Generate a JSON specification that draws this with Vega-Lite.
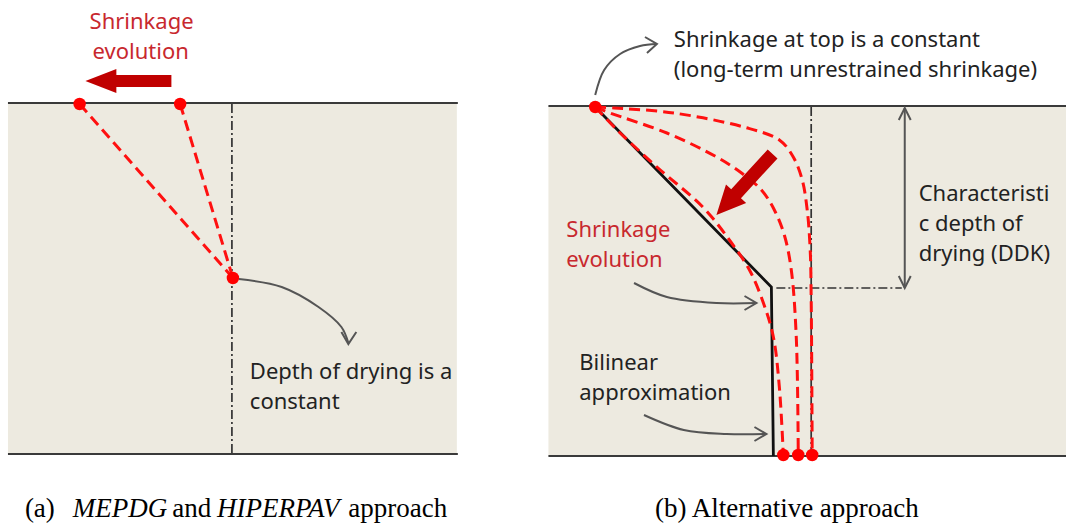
{
  "$schema": "https://vega.github.io/schema/vega-lite/v6.json",
  "width": 1071,
  "height": 523,
  "autosize": {"type": "fit", "contains": "padding"},
  "padding": 0,
  "background": "#ffffff",
  "config": {"view": {"stroke": null}},
  "datasets": {
    "bg": [
      {"x": 8, "x2": 459, "y": 103, "y2": 454},
      {"x": 551, "x2": 1071, "y": 106, "y2": 456}
    ],
    "surf": [
      {"g": "a1", "i": 0, "x": 8, "y": 103}, {"g": "a1", "i": 1, "x": 460, "y": 103},
      {"g": "a2", "i": 0, "x": 8, "y": 454}, {"g": "a2", "i": 1, "x": 460, "y": 454},
      {"g": "b1", "i": 0, "x": 551, "y": 106}, {"g": "b1", "i": 1, "x": 1071, "y": 106},
      {"g": "b2", "i": 0, "x": 551, "y": 456}, {"g": "b2", "i": 1, "x": 1071, "y": 456}
    ],
    "dashdot": [
      {"g": "a", "i": 0, "x": 233, "y": 104}, {"g": "a", "i": 1, "x": 233, "y": 453},
      {"g": "b", "i": 0, "x": 815, "y": 107}, {"g": "b", "i": 1, "x": 815, "y": 455},
      {"g": "h", "i": 0, "x": 780, "y": 288}, {"g": "h", "i": 1, "x": 906, "y": 288}
    ],
    "reddash": [
      {"g": "s1", "i": 0, "x": 80, "y": 104}, {"g": "s1", "i": 1, "x": 234, "y": 278},
      {"g": "s2", "i": 0, "x": 181, "y": 104}, {"g": "s2", "i": 1, "x": 234, "y": 278},
      {"g": "c1", "i": 0, "x": 598, "y": 107}, {"g": "c1", "i": 1, "x": 620, "y": 130},
      {"g": "c1", "i": 2, "x": 660, "y": 167}, {"g": "c1", "i": 3, "x": 707, "y": 208},
      {"g": "c1", "i": 4, "x": 735, "y": 243}, {"g": "c1", "i": 5, "x": 753, "y": 270},
      {"g": "c1", "i": 6, "x": 767, "y": 303}, {"g": "c1", "i": 7, "x": 777, "y": 337},
      {"g": "c1", "i": 8, "x": 783, "y": 387}, {"g": "c1", "i": 9, "x": 787, "y": 455},
      {"g": "c2", "i": 0, "x": 598, "y": 107}, {"g": "c2", "i": 1, "x": 613, "y": 113},
      {"g": "c2", "i": 2, "x": 670, "y": 133}, {"g": "c2", "i": 3, "x": 720, "y": 157},
      {"g": "c2", "i": 4, "x": 745, "y": 173}, {"g": "c2", "i": 5, "x": 765, "y": 190},
      {"g": "c2", "i": 6, "x": 778, "y": 210}, {"g": "c2", "i": 7, "x": 788, "y": 235},
      {"g": "c2", "i": 8, "x": 795, "y": 270}, {"g": "c2", "i": 9, "x": 800, "y": 337},
      {"g": "c2", "i": 10, "x": 802, "y": 455},
      {"g": "c3", "i": 0, "x": 598, "y": 107}, {"g": "c3", "i": 1, "x": 617, "y": 108},
      {"g": "c3", "i": 2, "x": 677, "y": 113}, {"g": "c3", "i": 3, "x": 747, "y": 127},
      {"g": "c3", "i": 4, "x": 783, "y": 140}, {"g": "c3", "i": 5, "x": 797, "y": 157},
      {"g": "c3", "i": 6, "x": 806, "y": 180}, {"g": "c3", "i": 7, "x": 811, "y": 210},
      {"g": "c3", "i": 8, "x": 814, "y": 250}, {"g": "c3", "i": 9, "x": 815, "y": 300},
      {"g": "c3", "i": 10, "x": 816, "y": 455}
    ],
    "bilinear": [
      {"i": 0, "x": 598, "y": 107}, {"i": 1, "x": 775, "y": 287}, {"i": 2, "x": 777, "y": 456}
    ],
    "graycurves": [
      {"g": "a1", "i": 0, "x": 240, "y": 279}, {"g": "a1", "i": 1, "x": 283, "y": 287},
      {"g": "a1", "i": 2, "x": 320, "y": 307}, {"g": "a1", "i": 3, "x": 343, "y": 327},
      {"g": "a1", "i": 4, "x": 350, "y": 343},
      {"g": "b1", "i": 0, "x": 598, "y": 95}, {"g": "b1", "i": 1, "x": 607, "y": 70},
      {"g": "b1", "i": 2, "x": 623, "y": 54}, {"g": "b1", "i": 3, "x": 643, "y": 46},
      {"g": "b1", "i": 4, "x": 660, "y": 44},
      {"g": "b2", "i": 0, "x": 637, "y": 283}, {"g": "b2", "i": 1, "x": 670, "y": 297},
      {"g": "b2", "i": 2, "x": 720, "y": 303}, {"g": "b2", "i": 3, "x": 760, "y": 303},
      {"g": "b3", "i": 0, "x": 647, "y": 415}, {"g": "b3", "i": 1, "x": 687, "y": 430},
      {"g": "b3", "i": 2, "x": 730, "y": 434}, {"g": "b3", "i": 3, "x": 770, "y": 434}
    ],
    "grayheads": [
      {"g": "a1", "i": 0, "x": 343, "y": 332}, {"g": "a1", "i": 1, "x": 350, "y": 344}, {"g": "a1", "i": 2, "x": 358, "y": 332},
      {"g": "b1", "i": 0, "x": 648, "y": 37}, {"g": "b1", "i": 1, "x": 660, "y": 44}, {"g": "b1", "i": 2, "x": 650, "y": 53},
      {"g": "b2", "i": 0, "x": 748, "y": 296}, {"g": "b2", "i": 1, "x": 760, "y": 303}, {"g": "b2", "i": 2, "x": 748, "y": 310},
      {"g": "b3", "i": 0, "x": 758, "y": 427}, {"g": "b3", "i": 1, "x": 770, "y": 434}, {"g": "b3", "i": 2, "x": 758, "y": 441},
      {"g": "v", "i": 0, "x": 909, "y": 108}, {"g": "v", "i": 1, "x": 909, "y": 288},
      {"g": "v1", "i": 0, "x": 903, "y": 120}, {"g": "v1", "i": 1, "x": 909, "y": 108}, {"g": "v1", "i": 2, "x": 915, "y": 120},
      {"g": "v2", "i": 0, "x": 903, "y": 276}, {"g": "v2", "i": 1, "x": 909, "y": 288}, {"g": "v2", "i": 2, "x": 915, "y": 276}
    ],
    "dots": [
      {"x": 80, "y": 104}, {"x": 181, "y": 104}, {"x": 234, "y": 278},
      {"x": 598, "y": 107}, {"x": 787, "y": 455}, {"x": 802, "y": 455}, {"x": 816, "y": 455}
    ],
    "arrowA": [{"x": 129, "y": 81}],
    "arrowB": [{"x": 748, "y": 184.5}],
    "darktext": [
      {"x": 251, "y": 379, "t": "Depth of drying is a"},
      {"x": 251, "y": 409, "t": "constant"},
      {"x": 677, "y": 47, "t": "Shrinkage at top is a constant"},
      {"x": 677, "y": 77, "t": "(long-term unrestrained shrinkage)"},
      {"x": 923, "y": 201, "t": "Characteristi"},
      {"x": 923, "y": 231, "t": "c depth of"},
      {"x": 923, "y": 261, "t": "drying (DDK)"},
      {"x": 582, "y": 370, "t": "Bilinear"},
      {"x": 582, "y": 400, "t": "approximation"}
    ],
    "redtext": [
      {"x": 90, "y": 29, "t": "Shrinkage"},
      {"x": 93, "y": 59, "t": "evolution"},
      {"x": 569, "y": 237, "t": "Shrinkage"},
      {"x": 569, "y": 267, "t": "evolution"}
    ],
    "capreg": [
      {"x": 25, "y": 517, "t": "(a)"},
      {"x": 173, "y": 517, "t": "and"},
      {"x": 350, "y": 517, "t": "approach"},
      {"x": 658, "y": 517, "t": "(b) Alternative approach"}
    ],
    "capital": [
      {"x": 73, "y": 517, "t": "MEPDG"},
      {"x": 218, "y": 517, "t": "HIPERPAV"}
    ]
  },
  "encoding": {
    "x": {"field": "x", "type": "quantitative", "scale": {"domain": [0, 1071], "nice": false, "zero": false}, "axis": null},
    "y": {"field": "y", "type": "quantitative", "scale": {"domain": [0, 523], "nice": false, "zero": false, "reverse": true}, "axis": null}
  },
  "layer": [
    {
      "data": {"name": "bg"},
      "mark": {"type": "rect", "color": "#EDEAE0"},
      "encoding": {"x2": {"field": "x2"}, "y2": {"field": "y2"}}
    },
    {
      "data": {"name": "surf"},
      "mark": {"type": "line", "color": "#3a3a3a", "strokeWidth": 2.2},
      "encoding": {"detail": {"field": "g"}, "order": {"field": "i"}}
    },
    {
      "data": {"name": "dashdot"},
      "mark": {"type": "line", "color": "#333333", "strokeWidth": 1.7, "strokeDash": [9, 3, 2, 3]},
      "encoding": {"detail": {"field": "g"}, "order": {"field": "i"}}
    },
    {
      "data": {"name": "bilinear"},
      "mark": {"type": "line", "color": "#111111", "strokeWidth": 2.8},
      "encoding": {"order": {"field": "i"}}
    },
    {
      "data": {"name": "reddash"},
      "mark": {"type": "line", "color": "#FF1010", "strokeWidth": 3, "strokeDash": [11, 6], "interpolate": "catmull-rom"},
      "encoding": {"detail": {"field": "g"}, "order": {"field": "i"}}
    },
    {
      "data": {"name": "graycurves"},
      "mark": {"type": "line", "color": "#555555", "strokeWidth": 2, "interpolate": "catmull-rom"},
      "encoding": {"detail": {"field": "g"}, "order": {"field": "i"}}
    },
    {
      "data": {"name": "grayheads"},
      "mark": {"type": "line", "color": "#555555", "strokeWidth": 2},
      "encoding": {"detail": {"field": "g"}, "order": {"field": "i"}}
    },
    {
      "data": {"name": "dots"},
      "mark": {"type": "point", "filled": true, "color": "#FF0000", "opacity": 1, "size": 155, "shape": "circle"}
    },
    {
      "data": {"name": "arrowA"},
      "mark": {"type": "point", "filled": true, "color": "#C00000", "opacity": 1, "size": 7396, "strokeWidth": 0,
        "shape": "M-1,0L-0.28,-0.28L-0.28,-0.14L1,-0.14L1,0.14L-0.28,0.14L-0.28,0.28Z"}
    },
    {
      "data": {"name": "arrowB"},
      "mark": {"type": "point", "filled": true, "color": "#C00000", "opacity": 1, "size": 6889, "strokeWidth": 0, "angle": 312.6,
        "shape": "M-1,0L-0.3,-0.33L-0.3,-0.16L1,-0.16L1,0.16L-0.3,0.16L-0.3,0.33Z"}
    },
    {
      "data": {"name": "darktext"},
      "mark": {"type": "text", "align": "left", "baseline": "alphabetic", "font": "Noto Sans", "fontSize": 22, "color": "#222222"},
      "encoding": {"text": {"field": "t"}}
    },
    {
      "data": {"name": "redtext"},
      "mark": {"type": "text", "align": "left", "baseline": "alphabetic", "font": "Noto Sans", "fontSize": 22, "color": "#C8282E"},
      "encoding": {"text": {"field": "t"}}
    },
    {
      "data": {"name": "capreg"},
      "mark": {"type": "text", "align": "left", "baseline": "alphabetic", "font": "Liberation Serif", "fontSize": 27, "color": "#000000"},
      "encoding": {"text": {"field": "t"}}
    },
    {
      "data": {"name": "capital"},
      "mark": {"type": "text", "align": "left", "baseline": "alphabetic", "font": "Liberation Serif", "fontSize": 27, "fontStyle": "italic", "color": "#000000"},
      "encoding": {"text": {"field": "t"}}
    }
  ]
}
